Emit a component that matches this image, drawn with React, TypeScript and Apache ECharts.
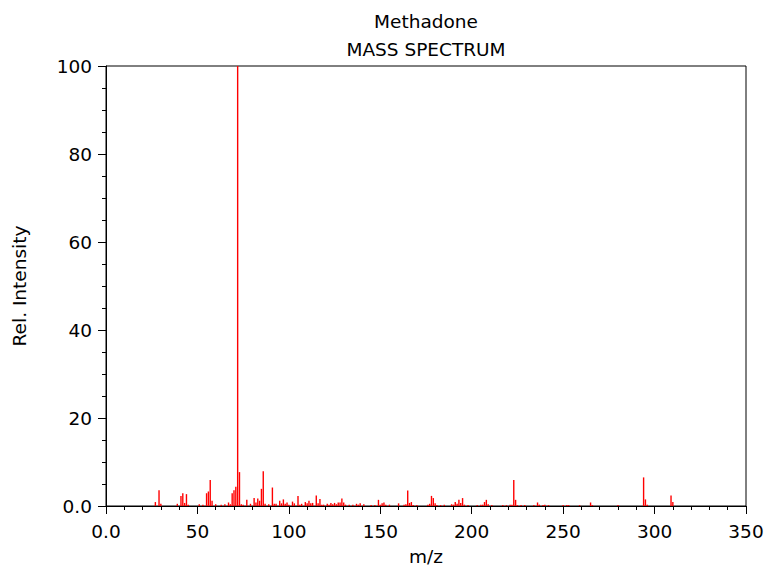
import React, { useEffect, useRef } from "react";
import * as echarts from "echarts";

const mzValues = [
  27, 29, 30, 39, 41, 42, 43, 44, 45, 51, 53, 55, 56, 57, 58, 60, 63, 65, 67, 68,
  69, 70, 71, 72, 73, 74, 75, 77, 79, 81, 82, 83, 84, 85, 86, 87, 89, 91, 92, 93,
  95, 96, 97, 98, 99, 100, 102, 103, 105, 106, 107, 109, 110, 111, 112, 113, 115, 116, 117, 118,
  119, 121, 122, 123, 124, 125, 126, 127, 128, 129, 130, 131, 133, 135, 137, 138, 139, 141, 145, 147,
  149, 150, 151, 152, 153, 155, 160, 163, 164, 165, 166, 167, 168, 170, 176, 177, 178, 179, 180, 181,
  183, 185, 189, 190, 191, 192, 193, 194, 195, 196, 198, 203, 205, 206, 207, 208, 209, 211, 217, 219,
  221, 222, 223, 224, 225, 227, 229, 234, 236, 237, 239, 240, 242, 250, 252, 253, 259, 265, 266, 280,
  294, 295, 296, 309, 310,
];

const intensities = [
  0.9, 3.6, 0.5, 0.5, 2.3, 2.9, 0.7, 2.7, 0.3, 0.4, 0.3, 2.9, 3.3, 5.9, 1.2, 0.4, 0.3, 0.4, 0.8, 0.4,
  2.9, 3.6, 4.4, 100, 7.7, 0.4, 0.3, 1.4, 0.5, 1.8, 0.8, 1.7, 1.2, 3.9, 7.9, 0.5, 0.4, 4.2, 0.5, 0.5,
  1.2, 0.6, 1.5, 0.5, 0.8, 0.3, 1.0, 0.6, 2.3, 0.3, 0.5, 0.9, 0.6, 1.2, 0.6, 0.7, 2.4, 0.6, 1.6, 0.3,
  0.3, 0.5, 0.3, 0.7, 0.4, 0.7, 0.4, 0.8, 0.8, 1.7, 0.8, 0.3, 0.3, 0.3, 0.5, 0.3, 0.6, 0.4, 0.2, 0.2,
  1.4, 0.3, 0.6, 0.8, 0.3, 0.3, 0.6, 0.3, 0.4, 3.5, 0.7, 0.9, 0.2, 0.2, 0.3, 0.5, 2.3, 1.8, 0.6, 0.2,
  0.2, 0.3, 0.4, 0.3, 0.9, 0.5, 1.4, 0.7, 1.8, 0.3, 0.2, 0.2, 0.3, 0.3, 0.9, 1.4, 0.4, 0.2, 0.2, 0.2,
  0.3, 0.3, 5.9, 1.4, 0.2, 0.2, 0.2, 0.2, 0.8, 0.3, 0.2, 0.3, 0.2, 0.2, 0.2, 0.2, 0.2, 0.8, 0.2, 0.2,
  6.5, 1.5, 0.3, 2.4, 0.9,
];

const titleLines = ["Methadone", "MASS SPECTRUM"];
const xAxisTitle = "m/z";
const yAxisTitle = "Rel. Intensity";

const FONT = "DejaVu Sans";
const FS = 18.5;

export default function App() {
  const ref = useRef<HTMLDivElement>(null);
  useEffect(() => {
    if (!ref.current) return;
    const chart = echarts.init(ref.current, null, { renderer: "svg" });
    const data = mzValues.map((m, i) => [m, intensities[i]]);
    const fmt = (v: number) => (v === 0 ? "0.0" : String(v));
    chart.setOption({
      animation: false,
      backgroundColor: "#ffffff",
      grid: {
        left: 106,
        right: 21,
        top: 66,
        bottom: 61,
        containLabel: false,
        outerBoundsMode: "none",
        show: true,
        borderColor: "#000000",
        borderWidth: 1,
        backgroundColor: "transparent",
      },
      graphic: [
        {
          type: "text",
          style: {
            text: titleLines[0],
            x: 426,
            y: 21,
            textAlign: "center",
            textVerticalAlign: "middle",
            font: `${FS}px "${FONT}"`,
            fill: "#000",
          },
        },
        {
          type: "text",
          style: {
            text: titleLines[1],
            x: 426,
            y: 49,
            textAlign: "center",
            textVerticalAlign: "middle",
            font: `${FS}px "${FONT}"`,
            fill: "#000",
          },
        },
      ],
      xAxis: {
        type: "value",
        min: 0,
        max: 350,
        interval: 50,
        name: xAxisTitle,
        nameLocation: "middle",
        nameGap: 41,
        nameTextStyle: { fontFamily: FONT, fontSize: FS, color: "#000" },
        axisLine: { show: true, onZero: false, lineStyle: { color: "#000", width: 1 } },
        axisTick: { show: true, inside: false, length: 8, lineStyle: { color: "#000", width: 1 } },
        minorTick: { show: true, splitNumber: 5, length: 4, lineStyle: { color: "#000", width: 1 } },
        axisLabel: { formatter: fmt, fontFamily: FONT, fontSize: FS, color: "#000", margin: 16 },
        splitLine: { show: false },
        minorSplitLine: { show: false },
      },
      yAxis: {
        type: "value",
        min: 0,
        max: 100,
        interval: 20,
        name: yAxisTitle,
        nameLocation: "middle",
        nameGap: 77,
        nameRotate: 90,
        nameTextStyle: { fontFamily: FONT, fontSize: FS, color: "#000" },
        axisLine: { show: true, onZero: false, lineStyle: { color: "#000", width: 1 } },
        axisTick: { show: true, inside: false, length: 8, lineStyle: { color: "#000", width: 1 } },
        minorTick: { show: true, splitNumber: 4, length: 4, lineStyle: { color: "#000", width: 1 } },
        axisLabel: { formatter: fmt, fontFamily: FONT, fontSize: FS, color: "#000", margin: 14 },
        splitLine: { show: false },
        minorSplitLine: { show: false },
      },
      series: [
        {
          type: "custom",
          data,
          silent: true,
          renderItem: (params: any, api: any) => {
            const x = api.value(0);
            const y = api.value(1);
            const top = api.coord([x, y]);
            const base = api.coord([x, 0]);
            return {
              type: "line",
              shape: { x1: base[0], y1: top[1], x2: base[0], y2: base[1] },
              style: { stroke: "#ff0000", lineWidth: 1.4 },
            };
          },
        },
      ],
    });
    return () => chart.dispose();
  }, []);
  return (
    <div
      ref={ref}
      style={{ position: "fixed", left: 0, top: 0, width: 767, height: 567, background: "#fff" }}
    />
  );
}
